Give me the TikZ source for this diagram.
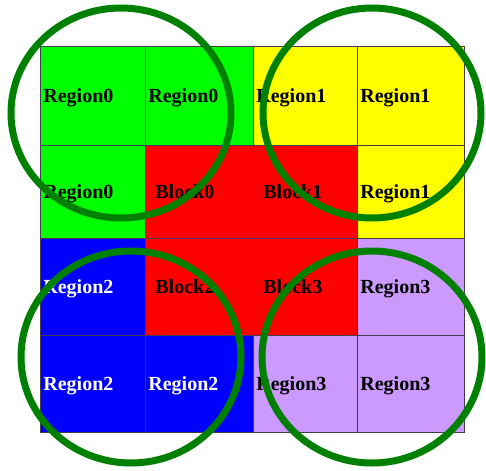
\documentclass[tikz,border=0pt]{standalone}
\usepackage{fontspec}
\setmainfont{Liberation Serif}
\definecolor{cgreen}{RGB}{0,255,0}
\definecolor{cred}{RGB}{255,0,0}
\definecolor{cyellow}{RGB}{255,255,0}
\definecolor{cblue}{RGB}{0,0,255}
\definecolor{clav}{RGB}{204,153,255}
\definecolor{ring}{RGB}{0,128,0}
\definecolor{gridc}{RGB}{70,60,80}
\begin{document}
\begin{tikzpicture}[x=1pt,y=-1pt,
  cell/.style={draw=gridc, line width=0.8pt, anchor=north west, inner sep=0pt,
    font=\fontsize{20}{24}\selectfont\bfseries, align=left, text height=18pt, text depth=5pt},
  reg/.style={cell, inner xsep=3pt},
  blk/.style={cell, inner xsep=10pt},
  ringc/.style={draw=ring, line width=7pt}]
\useasboundingbox (0,0) rectangle (486,470);
% row 1
\node[reg, fill=cgreen, minimum width=105pt, minimum height=99pt, text width=99pt] (c11) at (40,46) {Region0};
\node[reg, fill=cgreen, minimum width=108pt, minimum height=99pt, text width=102pt] (c12) at (145,46) {Region0};
\node[reg, fill=cyellow, minimum width=104pt, minimum height=99pt, text width=98pt] (c13) at (253,46) {Region1};
\node[reg, fill=cyellow, minimum width=107pt, minimum height=99pt, text width=101pt] (c14) at (357,46) {Region1};
% row 2
\node[reg, fill=cgreen, minimum width=105pt, minimum height=93pt, text width=99pt] (c21) at (40,145) {Region0};
\node[blk, fill=cred, minimum width=108pt, minimum height=93pt, text width=88pt] (c22) at (145,145) {Block0};
\node[blk, fill=cred, minimum width=104pt, minimum height=93pt, text width=84pt] (c23) at (253,145) {Block1};
\node[reg, fill=cyellow, minimum width=107pt, minimum height=93pt, text width=101pt] (c24) at (357,145) {Region1};
% row 3
\node[reg, fill=cblue, text=white, minimum width=105pt, minimum height=97pt, text width=99pt] (c31) at (40,238) {Region2};
\node[blk, fill=cred, minimum width=108pt, minimum height=97pt, text width=88pt] (c32) at (145,238) {Block2};
\node[blk, fill=cred, minimum width=104pt, minimum height=97pt, text width=84pt] (c33) at (253,238) {Block3};
\node[reg, fill=clav, minimum width=107pt, minimum height=97pt, text width=101pt] (c34) at (357,238) {Region3};
% row 4
\node[reg, fill=cblue, text=white, minimum width=105pt, minimum height=97pt, text width=99pt] (c41) at (40,335) {Region2};
\node[reg, fill=cblue, text=white, minimum width=108pt, minimum height=97pt, text width=102pt] (c42) at (145,335) {Region2};
\node[reg, fill=clav, minimum width=104pt, minimum height=97pt, text width=98pt] (c43) at (253,335) {Region3};
\node[reg, fill=clav, minimum width=107pt, minimum height=97pt, text width=101pt] (c44) at (357,335) {Region3};
% rings
\draw[ringc] (121,113) ellipse [x radius=110, y radius=105];
\draw[ringc] (372,113) ellipse [x radius=109, y radius=105];
\draw[ringc] (131,357) ellipse [x radius=110, y radius=106];
\draw[ringc] (372,357) ellipse [x radius=110, y radius=106];
\end{tikzpicture}
\end{document}
